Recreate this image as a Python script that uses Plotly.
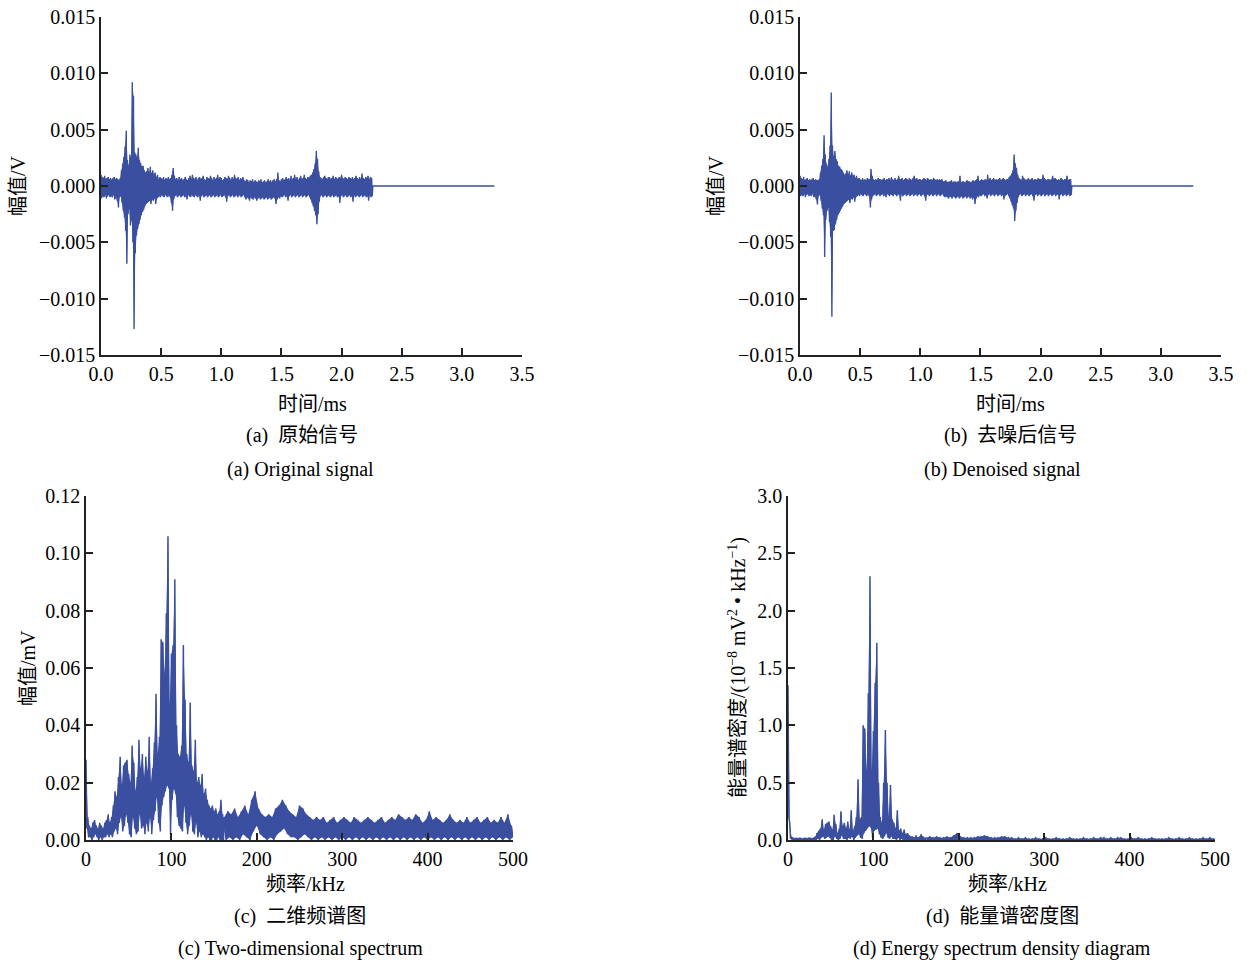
import plotly.graph_objects as go

# ---------------- DATA ----------------
# (a) original signal: upper / lower envelope per 0.01 ms sample, in mV
A_T0 = 0.0
A_DT = 0.01
A_UP = [1.0, 0.8, 0.7, 0.9, 0.6, 0.7, 0.8, 0.6, 0.7, 0.5,
        0.7, 0.8, 0.6, 0.7, 0.6, 0.5, 0.7, 1.4, 2.0, 2.6,
        3.5, 4.9, 2.3, 1.8, 2.8, 2.5, 9.2, 8.0, 3.0, 2.8,
        2.5, 3.4, 2.3, 2.0, 1.7, 1.8, 1.4, 1.2, 1.3, 1.6,
        1.2, 1.7, 1.1, 1.4, 1.0, 1.2, 0.8, 1.0, 0.6, 0.8,
        0.7, 0.6, 0.8, 0.5, 0.7, 0.6, 0.8, 0.6, 0.7, 1.0,
        1.6, 0.9, 0.6, 0.7, 0.5, 0.8, 0.6, 0.7, 0.5, 0.6,
        0.8, 0.6, 0.5, 0.7, 0.9, 0.6, 1.0, 0.7, 0.6, 0.8,
        0.5, 0.7, 0.8, 0.6, 0.7, 0.9, 0.6, 0.5, 0.8, 0.7,
        0.6, 0.9, 0.7, 0.5, 0.8, 0.6, 0.7, 1.0, 0.6, 0.8,
        0.7, 0.5, 0.6, 0.8, 0.7, 0.6, 0.9, 0.7, 0.5, 0.8,
        0.6, 1.0, 0.7, 0.6, 0.8, 0.5, 0.7, 0.6, 0.8, 0.5,
        0.4, 0.6, 0.5, 0.3, 0.5, 0.4, 0.6, 0.3, 0.5, 0.4,
        0.3, 0.5, 0.4, 0.6, 0.3, 0.4, 0.5, 0.3, 0.4, 0.6,
        0.4, 0.5, 0.3, 0.5, 0.6, 0.4, 0.6, 1.2, 0.5, 0.4,
        0.6, 0.7, 0.5, 0.6, 0.8, 0.6, 0.7, 0.5, 0.9, 0.6,
        0.7, 1.0, 0.6, 0.8, 0.5, 0.7, 0.9, 0.6, 0.7, 1.0,
        0.7, 0.6, 0.8, 0.7, 0.9, 1.0, 1.2, 1.5, 2.0, 3.1,
        2.4, 1.3, 0.8, 0.7, 0.6, 0.8, 0.9, 0.7, 0.6, 0.8,
        0.8, 0.6, 0.7, 0.9, 0.6, 0.8, 0.7, 0.6, 0.8, 0.7,
        1.0, 0.7, 0.6, 0.8, 0.7, 0.6, 0.8, 0.7, 0.6, 0.8,
        0.6, 0.7, 0.9, 0.7, 0.6, 0.8, 0.6, 1.1, 0.7, 0.6,
        0.8, 0.7, 0.9, 0.6, 0.8, 0.7]
A_LO = [-1.1, -0.9, -1.0, -0.8, -1.1, -0.9, -0.8, -1.0, -0.9, -1.0,
        -0.8, -1.2, -1.0, -1.3, -1.9, -1.0, -0.9, -1.5, -2.2, -2.8,
        -4.0, -6.9, -2.5, -2.0, -3.5, -3.0, -5.0, -12.7, -6.0, -4.4,
        -3.8, -3.4, -3.0, -2.6, -2.3, -2.1, -1.8, -1.6, -1.5, -1.4,
        -1.3, -1.6, -1.2, -1.3, -1.1, -1.6, -1.1, -1.0, -0.9, -1.0,
        -0.8, -0.9, -1.0, -0.8, -0.9, -1.0, -0.8, -1.0, -1.5, -2.2,
        -1.2, -0.9, -0.8, -1.0, -0.9, -0.8, -1.0, -0.9, -0.8, -1.0,
        -0.9, -1.2, -0.8, -0.9, -1.0, -0.8, -0.9, -1.0, -0.8, -0.9,
        -1.0, -0.8, -1.3, -0.9, -0.8, -1.0, -0.9, -0.8, -1.0, -0.9,
        -0.8, -1.0, -0.9, -0.8, -1.0, -0.9, -0.8, -1.0, -0.9, -0.8,
        -1.0, -0.9, -0.8, -1.0, -1.4, -0.9, -0.8, -1.0, -0.9, -0.8,
        -1.0, -0.9, -0.8, -1.0, -0.9, -0.8, -1.0, -0.9, -0.8, -1.0,
        -1.2, -1.0, -1.1, -1.3, -1.0, -1.1, -1.2, -1.0, -1.1, -1.3,
        -1.1, -1.0, -1.2, -1.1, -1.0, -1.2, -1.1, -1.0, -1.2, -1.1,
        -1.0, -1.2, -1.1, -1.0, -1.1, -1.6, -1.2, -1.0, -1.1, -0.9,
        -1.0, -0.9, -0.8, -1.0, -0.9, -1.3, -0.9, -0.8, -1.0, -0.9,
        -0.8, -1.0, -0.9, -0.8, -1.0, -0.9, -0.8, -1.0, -0.9, -0.8,
        -1.0, -0.9, -0.8, -1.0, -1.2, -1.5, -1.8, -2.2, -2.6, -3.4,
        -2.5, -1.4, -0.9, -0.8, -1.0, -0.9, -0.8, -1.0, -0.9, -0.8,
        -1.0, -0.9, -0.8, -1.0, -0.9, -0.8, -1.0, -0.9, -1.5, -0.9,
        -0.8, -1.0, -0.9, -0.8, -1.0, -0.9, -0.8, -1.0, -0.9, -1.4,
        -0.8, -1.0, -0.9, -0.8, -1.0, -0.9, -0.8, -1.0, -0.9, -0.8,
        -1.0, -0.9, -1.3, -0.8, -1.0, -0.9]

# (b) denoised signal: upper / lower envelope per 0.01 ms sample, in mV
B_UP = [0.9, 0.7, 0.6, 0.8, 0.5, 0.6, 0.7, 0.5, 0.6, 0.5,
        0.6, 0.7, 0.5, 0.6, 0.5, 0.5, 0.6, 1.2, 1.8, 2.4,
        4.5, 2.8, 2.0, 1.7, 2.4, 3.6, 8.3, 3.6, 2.6, 3.1,
        2.4, 2.2, 1.8, 1.7, 1.5, 1.4, 1.2, 1.0, 1.1, 1.4,
        1.0, 1.3, 0.9, 1.2, 0.9, 1.0, 0.7, 0.9, 0.6, 0.7,
        0.6, 0.5, 0.7, 0.5, 0.6, 0.5, 0.7, 0.6, 0.6, 1.5,
        0.9, 0.6, 0.5, 0.6, 0.5, 0.7, 0.6, 0.6, 0.5, 0.6,
        0.7, 0.5, 0.6, 0.6, 0.7, 0.5, 0.8, 0.6, 0.5, 0.7,
        0.5, 0.6, 0.9, 0.6, 0.6, 0.7, 0.5, 0.6, 0.7, 0.6,
        0.5, 0.7, 0.6, 0.5, 0.7, 0.9, 0.6, 0.7, 0.5, 0.6,
        0.6, 0.5, 0.6, 0.7, 0.6, 0.5, 0.7, 0.6, 0.5, 0.6,
        0.5, 0.7, 0.6, 0.5, 0.6, 0.5, 0.6, 0.5, 0.6, 0.4,
        0.4, 0.5, 0.4, 0.3, 0.4, 0.4, 0.5, 0.3, 0.4, 0.4,
        0.3, 0.4, 0.4, 0.9, 0.3, 0.4, 0.4, 0.3, 0.4, 0.5,
        0.4, 0.4, 0.3, 0.4, 0.5, 0.4, 0.5, 0.6, 0.9, 0.4,
        0.5, 0.6, 0.5, 0.5, 0.6, 0.5, 1.0, 0.5, 0.7, 0.5,
        0.6, 0.7, 0.5, 0.6, 0.5, 0.6, 0.7, 0.5, 0.6, 0.7,
        0.6, 0.5, 0.6, 0.6, 0.8, 0.9, 1.1, 1.4, 2.8, 2.0,
        1.6, 1.0, 0.7, 0.6, 0.5, 0.9, 0.7, 0.6, 0.5, 0.6,
        0.7, 0.5, 0.6, 0.7, 0.5, 0.6, 0.6, 0.5, 0.7, 0.6,
        0.6, 0.6, 1.0, 0.7, 0.6, 0.5, 0.6, 0.6, 0.5, 0.6,
        0.9, 0.6, 0.7, 0.6, 0.5, 0.6, 0.5, 0.7, 0.6, 0.5,
        0.6, 0.6, 0.9, 0.5, 0.6, 0.6]
B_LO = [-0.9, -0.8, -0.9, -0.7, -1.0, -0.8, -0.7, -0.9, -0.8, -0.9,
        -0.7, -1.0, -0.9, -1.2, -1.65, -0.9, -0.8, -1.3, -2.0, -2.6,
        -6.3, -3.0, -2.2, -1.9, -3.2, -4.5, -11.6, -4.0, -3.9, -3.4,
        -3.0, -2.6, -2.4, -2.2, -2.0, -1.8, -1.6, -1.5, -1.4, -1.3,
        -1.2, -1.5, -1.1, -1.2, -1.0, -1.4, -1.0, -0.9, -0.8, -0.9,
        -0.7, -0.8, -0.9, -0.7, -0.8, -0.9, -0.7, -0.9, -1.9, -1.2,
        -0.9, -0.8, -0.7, -0.9, -0.8, -0.7, -0.9, -0.8, -0.7, -0.9,
        -0.8, -1.0, -0.7, -0.8, -0.9, -0.7, -0.8, -0.9, -0.7, -0.8,
        -0.9, -0.7, -0.8, -1.3, -0.7, -0.9, -0.8, -0.7, -0.9, -0.8,
        -0.7, -0.9, -0.8, -0.7, -0.9, -0.8, -0.7, -0.9, -0.8, -0.7,
        -0.9, -0.8, -0.7, -0.9, -1.3, -0.8, -0.7, -0.9, -0.8, -0.7,
        -0.9, -0.8, -0.7, -0.9, -0.8, -0.7, -0.9, -0.8, -0.7, -0.9,
        -1.0, -0.9, -1.0, -1.1, -0.9, -1.0, -1.1, -0.9, -1.0, -1.1,
        -1.0, -0.9, -1.1, -1.0, -0.9, -1.1, -1.0, -0.9, -1.1, -1.0,
        -0.9, -1.1, -1.0, -1.2, -1.0, -1.6, -1.1, -0.9, -1.0, -0.8,
        -0.9, -0.8, -0.7, -0.9, -0.8, -1.1, -0.8, -0.7, -0.9, -0.8,
        -0.7, -0.9, -0.8, -0.7, -0.9, -0.8, -0.7, -0.9, -0.8, -1.2,
        -0.9, -0.8, -0.7, -0.9, -1.1, -1.4, -1.7, -2.0, -3.1, -2.2,
        -1.5, -1.0, -0.8, -0.7, -0.9, -0.8, -0.7, -0.9, -0.8, -0.7,
        -0.9, -0.8, -0.7, -0.9, -1.3, -0.8, -0.7, -0.9, -0.8, -0.7,
        -0.9, -0.8, -0.7, -0.9, -0.8, -0.7, -0.9, -0.8, -0.7, -0.9,
        -0.8, -0.7, -0.9, -0.8, -0.7, -1.2, -0.8, -0.7, -0.9, -0.8,
        -0.7, -0.9, -0.8, -0.7, -0.9, -0.8]
SIG_TAIL_START = 2.26   # ms, flat (zero) part of record
SIG_TAIL_END = 3.27     # ms

# (c) amplitude spectrum, upper / lower envelope, in 0.001 mV
C_F0, C_DF = 0, 2          # segment 1: 0..160 kHz
C_UP1 = [28, 8, 5, 4, 6, 7, 5, 4, 6, 5,
         4, 6, 7, 9, 6, 8, 12, 17, 15, 22,
         29, 19, 26, 27, 28, 23, 20, 33, 27, 17,
         22, 35, 25, 30, 22, 29, 24, 36, 20, 25,
         34, 51, 30, 36, 70, 69, 58, 79, 106, 47,
         65, 68, 91, 40, 30, 29, 33, 68, 49, 30,
         27, 48, 26, 24, 35, 20, 22, 19, 23, 16,
         18, 14, 12, 11, 12, 10, 11, 9, 10, 14, 9]
C_LO1 = [4, 1, 1, 0, 1, 2, 1, 0, 1, 0,
         1, 1, 2, 1, 2, 1, 3, 4, 2, 6,
         8, 3, 5, 9, 6, 2, 1, 8, 4, 2,
         3, 9, 4, 5, 2, 6, 3, 8, 2, 7,
         10, 15, 6, 3, 12, 15, 17, 19, 18, 2,
         14, 18, 16, 8, 5, 4, 3, 12, 6, 2,
         5, 9, 3, 2, 6, 1, 3, 1, 2, 1,
         0, 1, 0, 0, 1, 0, 0, 1, 0, 0, 0]
C_F1, C_DF1 = 162, 4       # segment 2: 162..498 kHz
C_UP2 = [8, 10, 9, 11, 8, 10, 12, 9, 14, 17,
         11, 9, 8, 9, 8, 11, 12, 14, 12, 10,
         9, 8, 12, 11, 9, 8, 7, 8, 7, 8,
         6, 7, 8, 6, 7, 8, 7, 6, 8, 7,
         6, 7, 8, 7, 6, 7, 8, 6, 7, 8,
         7, 9, 8, 7, 8, 7, 9, 8, 6, 7,
         10, 7, 8, 7, 6, 7, 9, 7, 6, 7,
         6, 8, 6, 7, 8, 6, 7, 8, 6, 7,
         6, 8, 6, 9, 5]
C_LO2 = [0, 1, 0, 1, 0, 2, 1, 0, 3, 5,
         2, 1, 0, 1, 0, 2, 3, 4, 2, 1,
         1, 0, 1, 2, 1, 0, 1, 0, 1, 0,
         1, 0, 1, 0, 1, 0, 1, 0, 1, 0,
         1, 0, 1, 0, 1, 0, 1, 0, 1, 0,
         1, 0, 1, 0, 1, 0, 1, 0, 1, 0,
         1, 0, 1, 0, 1, 0, 1, 0, 1, 0,
         1, 0, 1, 0, 1, 0, 1, 0, 1, 0,
         1, 0, 1, 0, 1]

# (d) energy spectral density, upper / lower envelope, in 0.01 x 10^-8 mV^2/kHz
D_UP1 = [135, 15, 3, 2, 1, 2, 1, 2, 1, 1,
         2, 1, 2, 2, 1, 2, 3, 6, 8, 10,
         18, 9, 14, 15, 16, 12, 9, 22, 14, 6,
         10, 25, 12, 15, 10, 16, 9, 26, 8, 12,
         20, 53, 18, 20, 100, 97, 60, 128, 230, 60,
         95, 137, 172, 50, 20, 15, 50, 96, 50, 20,
         48, 18, 15, 10, 26, 8, 10, 6, 9, 5,
         6, 4, 3, 3, 2, 4, 2, 3, 5, 3, 2]
D_LO1 = [20, 1, 0, 0, 0, 0, 0, 0, 0, 0,
         0, 0, 0, 0, 0, 0, 0, 1, 0, 2,
         3, 1, 2, 3, 2, 0, 0, 3, 1, 0,
         1, 4, 1, 1, 0, 2, 1, 3, 0, 2,
         4, 5, 2, 1, 6, 8, 10, 12, 11, 2,
         8, 9, 10, 5, 2, 1, 3, 6, 2, 1,
         3, 1, 1, 0, 2, 0, 1, 0, 0, 0,
         0, 0, 0, 0, 0, 0, 0, 0, 0, 0, 0]
D_UP2 = [2, 3, 2, 3, 2, 2, 3, 2, 4, 6,
         3, 2, 2, 2, 2, 3, 3, 4, 3, 2,
         2, 2, 3, 3, 2, 2, 1, 2, 1, 2,
         1, 1, 2, 1, 1, 2, 1, 1, 2, 1,
         1, 1, 2, 1, 1, 1, 2, 1, 1, 2,
         1, 2, 2, 1, 2, 1, 2, 2, 1, 1,
         2, 1, 2, 1, 1, 1, 2, 1, 1, 1,
         1, 2, 1, 1, 2, 1, 1, 2, 1, 1,
         1, 2, 1, 2, 1]
D_LO2 = [0] * 85

LINE_COLOR = "#3A4FA0"

# ---------------- helpers ----------------
def zigzag(x0, dx, up, lo, scale):
    xs, ys = [], []
    for i, (u, l) in enumerate(zip(up, lo)):
        x = x0 + i * dx
        xs += [x, x + dx / 2]
        ys += [u * scale, l * scale]
    return xs, ys

def band(x0, dx, up, lo, scale):
    # closed polygon: upper envelope forward, lower envelope back
    xu = [x0 + i * dx for i in range(len(up))]
    xl = [x0 + i * dx + dx / 2 for i in range(len(lo))]
    return xu + xl[::-1], [u * scale for u in up] + [l * scale for l in lo][::-1]

W, H = 1247, 960
def px(x): return x / W
def py(y): return 1 - y / H

fig = go.Figure()

def add_line(x, y, xa, ya, width):
    fig.add_trace(go.Scatter(x=x, y=y, mode="lines",
                             line=dict(color=LINE_COLOR, width=width, simplify=False),
                             xaxis=xa, yaxis=ya, showlegend=False, hoverinfo="skip"))

def add_fill(x, y, xa, ya):
    fig.add_trace(go.Scatter(x=x, y=y, mode="lines", fill="toself",
                             fillcolor=LINE_COLOR, line=dict(width=0, simplify=False),
                             xaxis=xa, yaxis=ya, showlegend=False, hoverinfo="skip"))

# (a)
add_fill(*band(A_T0, A_DT, A_UP, A_LO, 1e-3), "x", "y")
xa, ya = zigzag(A_T0, A_DT, A_UP, A_LO, 1e-3)
xa += [SIG_TAIL_START, SIG_TAIL_END]; ya += [0, 0]
add_line(xa, ya, "x", "y", 1.4)
# (b)
add_fill(*band(A_T0, A_DT, B_UP, B_LO, 1e-3), "x2", "y2")
xb, yb = zigzag(A_T0, A_DT, B_UP, B_LO, 1e-3)
xb += [SIG_TAIL_START, SIG_TAIL_END]; yb += [0, 0]
add_line(xb, yb, "x2", "y2", 1.4)
# (c)
for (f0, df, up, lo) in [(C_F0, C_DF, C_UP1, C_LO1), (C_F1, C_DF1, C_UP2, C_LO2)]:
    add_fill(*band(f0, df, up, lo, 1e-3), "x3", "y3")
xc1, yc1 = zigzag(C_F0, C_DF, C_UP1, C_LO1, 1e-3)
xc2, yc2 = zigzag(C_F1, C_DF1, C_UP2, C_LO2, 1e-3)
add_line(xc1 + xc2, yc1 + yc2, "x3", "y3", 1.5)
# (d)
for (f0, df, up, lo) in [(C_F0, C_DF, D_UP1, D_LO1), (C_F1, C_DF1, D_UP2, D_LO2)]:
    add_fill(*band(f0, df, up, lo, 1e-2), "x4", "y4")
xd1, yd1 = zigzag(C_F0, C_DF, D_UP1, D_LO1, 1e-2)
xd2, yd2 = zigzag(C_F1, C_DF1, D_UP2, D_LO2, 1e-2)
add_line(xd1 + xd2, yd1 + yd2, "x4", "y4", 1.5)

TICKFONT = dict(family="Liberation Serif, Noto Sans CJK SC", size=20, color="black")
def axis(dom, anchor, rng, dtick, fmt):
    return dict(domain=dom, anchor=anchor, range=rng, dtick=dtick, tick0=0, tickformat=fmt,
                showline=True, linecolor="#222", linewidth=1.5, ticks="inside",
                ticklen=7, tickwidth=1.5, tickcolor="#222", showgrid=False, zeroline=False,
                tickfont=TICKFONT, fixedrange=True, automargin=False, layer="above traces")

top_y = [py(355), py(17)]
bot_y = [py(840), py(496)]
fig.update_layout(
    width=W, height=H, autosize=False,
    margin=dict(l=0, r=0, t=0, b=0),
    paper_bgcolor="white", plot_bgcolor="white",
    xaxis=axis([px(101), px(522)], "y", [0, 3.5], 0.5, ".1f"),
    yaxis=axis(top_y, "x", [-0.015, 0.015], 0.005, ".3f"),
    xaxis2=axis([px(800), px(1221)], "y2", [0, 3.5], 0.5, ".1f"),
    yaxis2=axis(top_y, "x2", [-0.015, 0.015], 0.005, ".3f"),
    xaxis3=axis([px(86), px(513)], "y3", [0, 500], 100, "d"),
    yaxis3=axis(bot_y, "x3", [0, 0.12], 0.02, ".2f"),
    xaxis4=axis([px(788), px(1215)], "y4", [0, 500], 100, "d"),
    yaxis4=axis(bot_y, "x4", [0, 3.0], 0.5, ".1f"),
)

FONT = dict(family="Liberation Serif, Noto Sans CJK SC", size=20, color="black")
def ann(text, x, y, angle=0):
    fig.add_annotation(text=text, x=px(x), y=py(y), xref="paper", yref="paper",
                       showarrow=False, xanchor="center", yanchor="middle",
                       textangle=angle, font=FONT)

ann("时间/ms", 312, 404)
ann("幅值/V", 18, 186, -90)
ann("(a)  原始信号", 302, 436)
ann("(a) Original signal", 300, 469)

ann("时间/ms", 1011, 404)
ann("幅值/V", 716, 186, -90)
ann("(b)  去噪后信号", 1011, 436)
ann("(b) Denoised signal", 1002, 469)

ann("频率/kHz", 305, 884)
ann("幅值/mV", 28, 668, -90)
ann("(c)  二维频谱图", 300, 916)
ann("(c) Two-dimensional spectrum", 300, 948)

ann("频率/kHz", 1007, 884)
ann("能量谱密度/(10<sup>−8</sup> mV<sup>2</sup> • kHz<sup>−1</sup>)", 737, 668, -90)
ann("(d)  能量谱密度图", 1002, 916)
ann("(d) Energy spectrum density diagram", 1002, 948)

fig.write_html("out.html", config={"displayModeBar": False},
               post_script="document.body.style.margin='0px';document.body.style.overflow='hidden';")
